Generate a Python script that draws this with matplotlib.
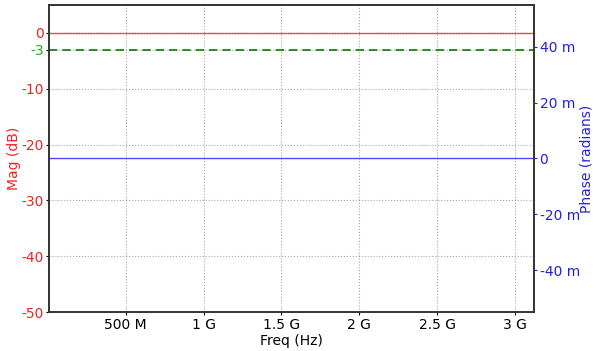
import matplotlib
matplotlib.use("Agg")
import matplotlib.pyplot as plt
from matplotlib.ticker import EngFormatter

plt.rcParams['axes.unicode_minus'] = False

# flat response: 0 dB, 0 rad across the band
freq = [1e7, 5e8, 1e9, 1.5e9, 2e9, 2.5e9, 3e9, 3.12e9]
mag_db = [0, 0, 0, 0, 0, 0, 0, 0]
phase = [0, 0, 0, 0, 0, 0, 0, 0]
cutoff_db = -3
mag_ticks = [0, -3, -10, -20, -30, -40, -50]
phase_ticks = [-0.04, -0.02, 0, 0.02, 0.04]

fig, ax = plt.subplots(figsize=(6, 3.51), dpi=100)
fig.subplots_adjust(left=0.082, right=0.89, top=0.986, bottom=0.111)

ax.plot(freq, mag_db, color='red', alpha=0.7, lw=1)
ax.axhline(cutoff_db, color='green', ls='--', lw=1.2, dashes=(5, 3))
ax.set_xlim(freq[0], freq[-1])
ax.set_ylim(-50, 5)
ax.set_yticks(mag_ticks)
ax.set_yticklabels([str(t) for t in mag_ticks])
for lab, t in zip(ax.get_yticklabels(), mag_ticks):
    lab.set_color('#22aa22' if t == cutoff_db else '#ee2222')
ax.set_ylabel('Mag (dB)', color='#ee2222', fontsize=10, labelpad=0)
ax.set_xlabel('Freq (Hz)', fontsize=10, labelpad=2)
ax.xaxis.set_major_formatter(EngFormatter())
ax.set_xticks([5e8, 1e9, 1.5e9, 2e9, 2.5e9, 3e9])
ax.grid(True, color='gray', ls=':', lw=0.8, alpha=0.7)
ax.tick_params(labelsize=10, length=2, pad=2)

ax2 = ax.twinx()
ax2.plot(freq, phase, color='blue', alpha=0.7, lw=1)
ax2.set_ylim(-0.055, 0.055)
ax2.set_yticks(phase_ticks)
ax2.yaxis.set_major_formatter(EngFormatter())
ax2.tick_params(axis='y', colors='#2222dd', labelsize=10, length=2, pad=2)
ax2.set_ylabel('Phase (radians)', color='#2222dd', fontsize=10, labelpad=0)

for a in (ax, ax2):
    for s in a.spines.values():
        s.set_color('#333333')
        s.set_linewidth(1.2)

fig.savefig('out.png', dpi=100)
